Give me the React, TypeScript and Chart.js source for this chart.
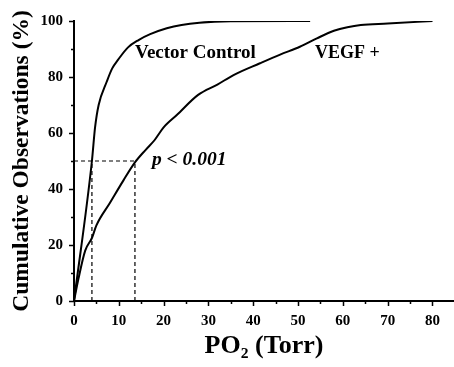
import { useEffect, useRef } from 'react';
import { Chart, registerables } from 'chart.js';

Chart.register(...registerables);

// PO2 (Torr) vs cumulative observations (%)
const vectorX = [0, 4, 4.7, 5.5, 7.3, 8.5, 9.9, 12, 14.4, 17, 20.7, 24, 28, 35, 52.7];
const vectorY = [0, 50, 62, 70, 78.3, 83, 86.3, 90.5, 93.2, 95.3, 97.4, 98.6, 99.4, 99.9, 100];

const vegfX = [0, 1, 2.5, 4, 5, 8, 11, 13.6, 16, 18, 20, 23, 27.7, 32, 35.6, 41.5, 46, 50.4, 54.2, 58, 61, 64, 70, 80];
const vegfY = [0, 8, 18, 22.5, 27, 35, 43, 49.5, 54, 57.5, 62, 66.5, 73.6, 77.3, 80.7, 84.9, 88, 90.8, 93.8, 96.5, 97.8, 98.6, 99.1, 100];

// median markers
const medianLevel = 50;
const medianVector = 4;
const medianVEGF = 13.6;

const xTickValues = [0, 10, 20, 30, 40, 50, 60, 70, 80];
const xMinorTicks = [5, 15, 25, 35, 45, 55, 65, 75];
const yTickValues = [0, 20, 40, 60, 80, 100];
const yMinorTicks = [10, 30, 50, 70, 90];

const noteTexts = ['Vector Control', 'VEGF +', 'p < 0.001'];
const noteX = [13.6, 53.8, 17.4];
const noteY = [88.6, 88.6, 50.4];
const noteItalic = [false, false, true];
const noteSize = [19, 18, 19.5];

const SERIF = "'Liberation Serif', 'Times New Roman', serif";

export default function App() {
  const ref = useRef<HTMLCanvasElement>(null);

  useEffect(() => {
    document.body.style.margin = '0';
    const canvas = ref.current!;
    const pts = (xs: number[], ys: number[]) => xs.map((x, i) => ({ x, y: ys[i] }));

    const decor = {
      id: 'decor',
      afterDatasetsDraw(chart: any) {
        const { ctx, scales } = chart;
        const xs = scales.x;
        const ys = scales.y;
        ctx.save();
        ctx.fillStyle = '#000';
        ctx.strokeStyle = '#000';
        ctx.lineWidth = 1.5;
        const y0 = ys.getPixelForValue(0);
        const x0 = xs.getPixelForValue(0);
        ctx.beginPath();
        xTickValues.forEach((v) => {
          const px = Math.round(xs.getPixelForValue(v)) + 0.5;
          ctx.moveTo(px, y0);
          ctx.lineTo(px, y0 + 5);
        });
        xMinorTicks.forEach((v) => {
          const px = Math.round(xs.getPixelForValue(v)) + 0.5;
          ctx.moveTo(px, y0);
          ctx.lineTo(px, y0 + 3);
        });
        yTickValues.forEach((v) => {
          const py = Math.round(ys.getPixelForValue(v)) + 0.5;
          ctx.moveTo(x0, py);
          ctx.lineTo(x0 - 5, py);
        });
        yMinorTicks.forEach((v) => {
          const py = Math.round(ys.getPixelForValue(v)) + 0.5;
          ctx.moveTo(x0, py);
          ctx.lineTo(x0 - 3, py);
        });
        ctx.stroke();
        ctx.textBaseline = 'middle';
        ctx.textAlign = 'left';
        noteTexts.forEach((t, i) => {
          ctx.font = `${noteItalic[i] ? 'italic ' : ''}bold ${noteSize[i]}px ${SERIF}`;
          ctx.fillText(t, xs.getPixelForValue(noteX[i]), ys.getPixelForValue(noteY[i]));
        });
        ctx.restore();
      },
    };

    const curve = (label: string, data: any) => ({
      label,
      data,
      showLine: true,
      borderColor: '#000',
      borderWidth: 2,
      pointRadius: 0,
      cubicInterpolationMode: 'monotone',
    });
    const dashed = (label: string, data: any) => ({
      label,
      data,
      showLine: true,
      borderColor: '#000',
      borderWidth: 1.2,
      borderDash: [4, 3],
      pointRadius: 0,
    });

    const chart = new Chart(canvas, {
      type: 'scatter',
      data: {
        datasets: [
          curve('Vector Control', pts(vectorX, vectorY)),
          curve('VEGF +', pts(vegfX, vegfY)),
          dashed('median level', [
            { x: 0, y: medianLevel },
            { x: medianVEGF, y: medianLevel },
          ]),
          dashed('median vector', [
            { x: medianVector, y: 0 },
            { x: medianVector, y: medianLevel },
          ]),
          dashed('median VEGF', [
            { x: medianVEGF, y: 0 },
            { x: medianVEGF, y: medianLevel },
          ]),
        ],
      },
      options: {
        responsive: false,
        animation: false,
        devicePixelRatio: 1,
        layout: { padding: { top: 21, right: 0, left: 0, bottom: 0 } },
        plugins: {
          legend: { display: false },
          tooltip: { enabled: false },
        },
        scales: {
          x: {
            type: 'linear',
            min: 0,
            max: 84.8,
            afterBuildTicks: (s: any) => {
              s.ticks = xTickValues.map((v) => ({ value: v }));
            },
            afterFit: (s: any) => {
              s.height = 66;
            },
            grid: { display: false, drawTicks: false },
            border: { display: true, color: '#000', width: 2 },
            ticks: {
              color: '#000',
              padding: 11,
              maxRotation: 0,
              font: { family: SERIF, size: 15, weight: 'bold' },
            },
            title: {
              display: true,
              text: 'PO₂ (Torr)',
              color: '#000',
              font: { family: SERIF, size: 26, weight: 'bold' },
              padding: { top: 0, bottom: 5 },
            },
          },
          y: {
            type: 'linear',
            min: 0,
            max: 100,
            afterBuildTicks: (s: any) => {
              s.ticks = yTickValues.map((v) => ({ value: v }));
            },
            afterFit: (s: any) => {
              s.width = 74;
            },
            grid: { display: false, drawTicks: false },
            border: { display: true, color: '#000', width: 2 },
            ticks: {
              color: '#000',
              padding: 11,
              font: { family: SERIF, size: 15, weight: 'bold' },
            },
            title: {
              display: true,
              text: 'Cumulative Observations (%)',
              color: '#000',
              font: { family: SERIF, size: 23.5, weight: 'bold' },
              padding: { top: 8, bottom: 0 },
            },
          },
        },
      },
      plugins: [decor],
    } as any);

    return () => chart.destroy();
  }, []);

  return <canvas ref={ref} width={454} height={367} style={{ display: 'block' }} />;
}
